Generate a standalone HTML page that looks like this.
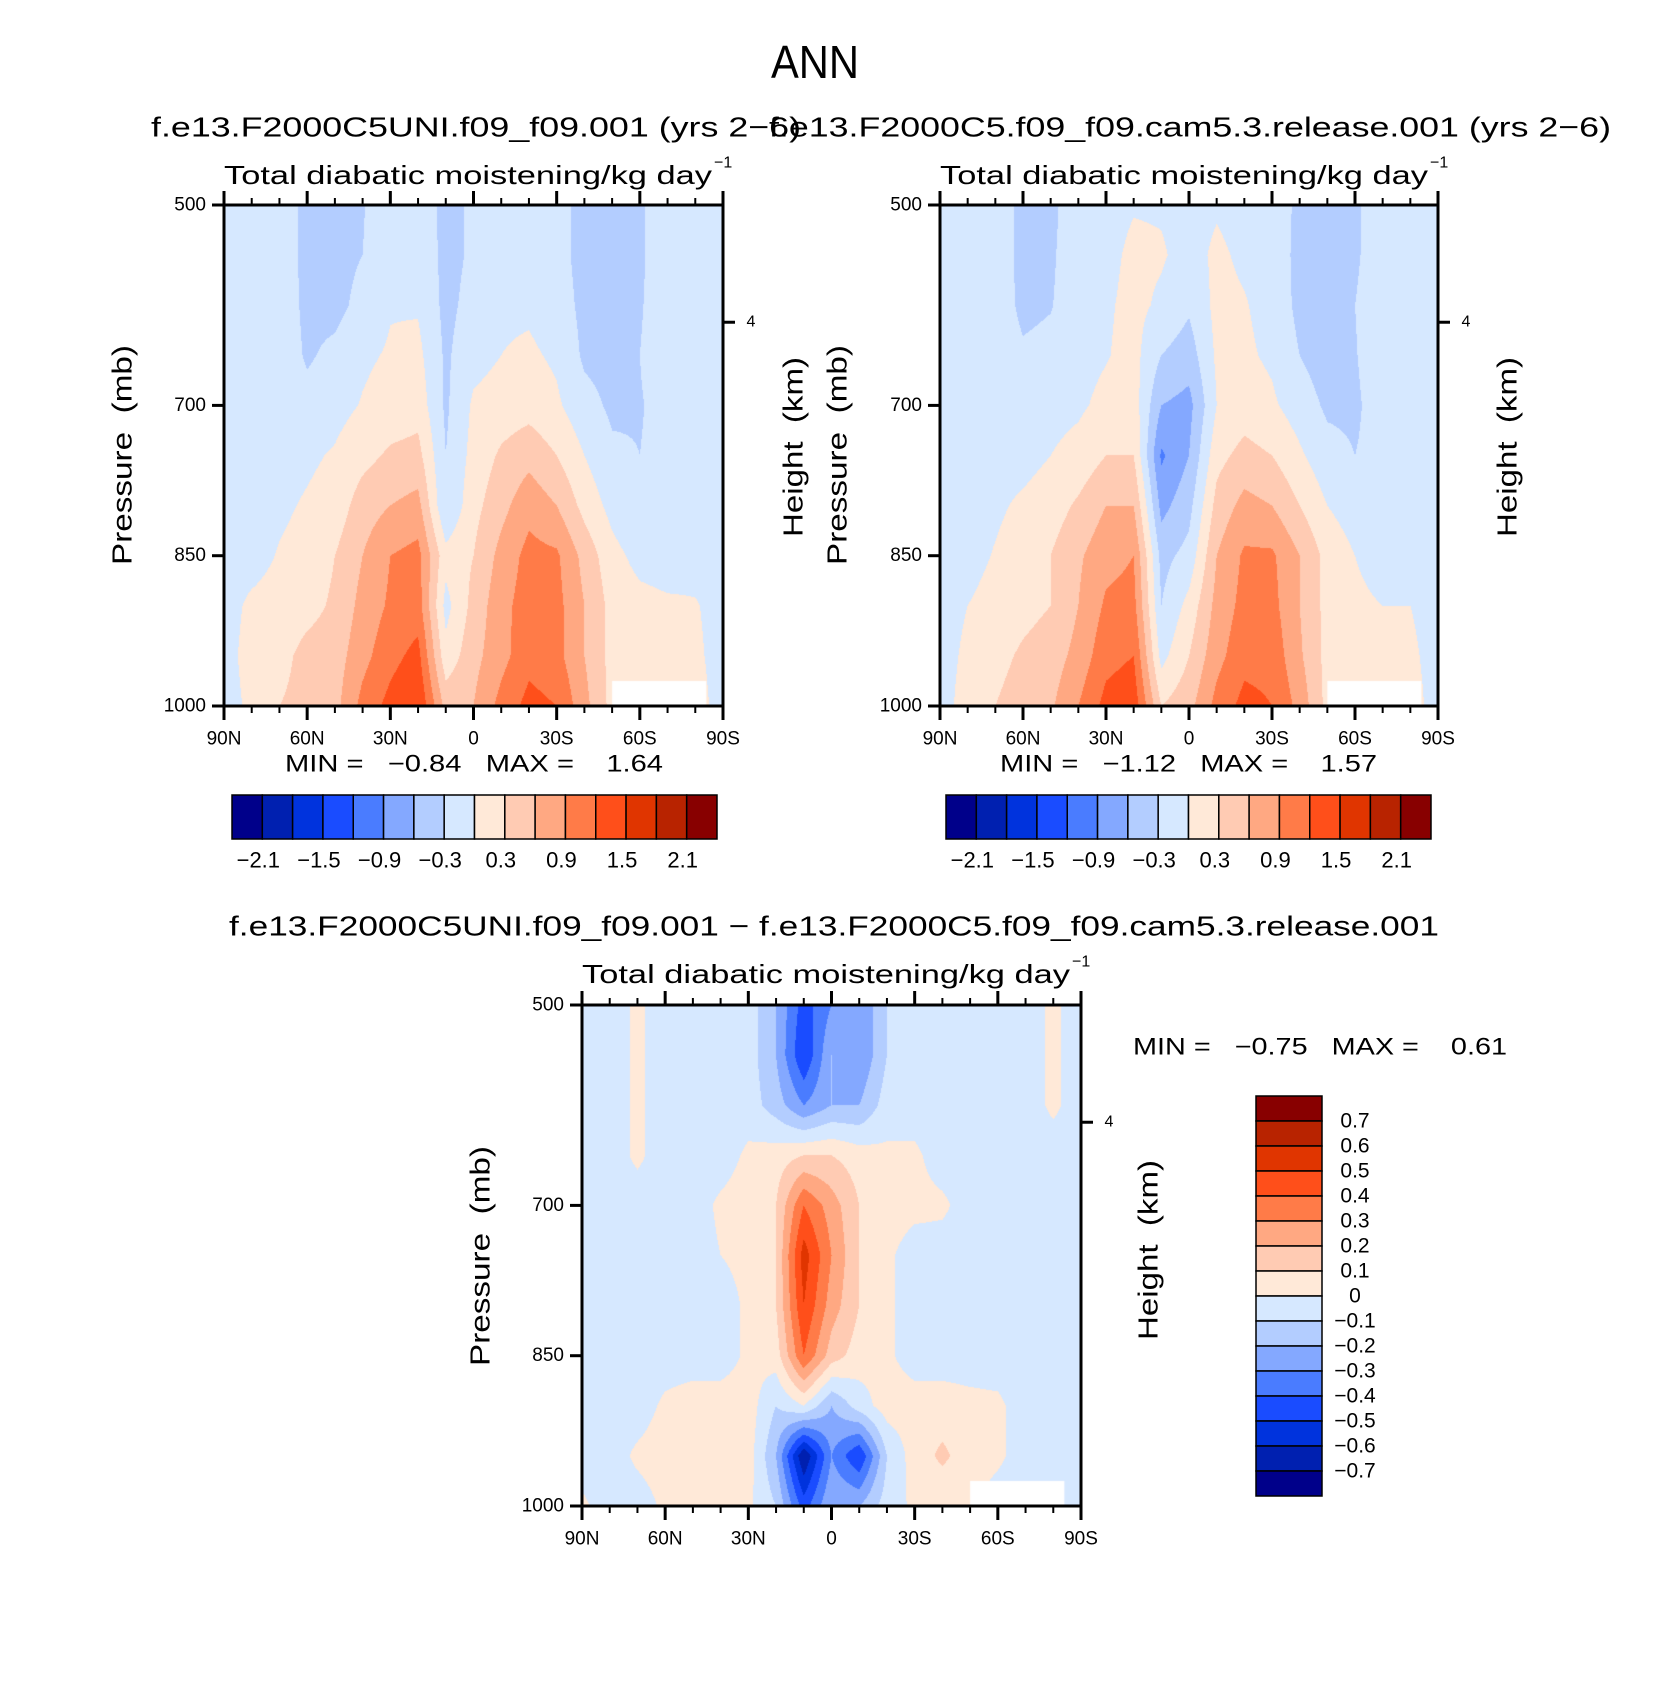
<!DOCTYPE html>
<html><head><meta charset="utf-8">
<style>
html,body{margin:0;padding:0;background:#fff;}
#root{position:relative;width:1660px;height:1702px;overflow:hidden;background:#fff;}
canvas{position:absolute;}
svg{position:absolute;left:0;top:0;}
text{font-family:"Liberation Sans",sans-serif;fill:#000;white-space:pre;}
</style></head>
<body>
<div id="root">
<canvas id="c1"></canvas>
<canvas id="c2"></canvas>
<canvas id="c3"></canvas>
<svg id="ov" width="1660" height="1702"></svg>
</div>
<script>
// ---- data ----
const latLabels = ["90N","60N","30N","0","30S","60S","90S"];
const latitudes = [90,80,70,60,50,40,30,20,10,0,-10,-20,-30,-40,-50,-60,-70,-80,-90];
const pressures = [500,550,600,650,700,750,800,850,900,950,1000];
const pTicks = [500,700,850,1000];
const cbLabelsAbs = ["−2.1","−1.5","−0.9","−0.3","0.3","0.9","1.5","2.1"];
const levelsAbs = [-2.1,-1.8,-1.5,-1.2,-0.9,-0.6,-0.3,0,0.3,0.6,0.9,1.2,1.5,1.8,2.1];
const levelsDiff = [-0.7,-0.6,-0.5,-0.4,-0.3,-0.2,-0.1,0,0.1,0.2,0.3,0.4,0.5,0.6,0.7];
const cbLabelsDiff = ["0.7","0.6","0.5","0.4","0.3","0.2","0.1","0","−0.1","−0.2","−0.3","−0.4","−0.5","−0.6","−0.7"];
const palette = ["#00008a","#0020b0","#0033dd","#1a4cff","#4a7cff","#84a8ff","#b3cdff","#d6e8ff","#ffe9d8","#ffcbb3","#ffa882","#ff7b48","#ff4f1a","#e03500","#b82300","#880000"];

const field1 = [
[-0.1,-0.1,-0.1,-0.4,-0.4,-0.32,-0.1,-0.1,-0.4,-0.25,-0.1,-0.1,-0.2,-0.4,-0.45,-0.35,-0.1,-0.1,-0.1],
[-0.1,-0.1,-0.1,-0.4,-0.4,-0.3,-0.1,-0.05,-0.4,-0.25,-0.1,-0.1,-0.2,-0.4,-0.45,-0.35,-0.1,-0.1,-0.1],
[-0.1,-0.1,-0.1,-0.38,-0.4,-0.2,-0.02,-0.03,-0.38,-0.2,-0.05,-0.05,-0.15,-0.38,-0.42,-0.33,-0.1,-0.1,-0.1],
[-0.1,-0.1,-0.1,-0.34,-0.22,-0.05,0.03,0.08,-0.35,-0.1,0.0,0.05,-0.05,-0.35,-0.4,-0.3,-0.1,-0.1,-0.1],
[-0.1,-0.1,-0.1,-0.2,-0.1,0.02,0.12,0.18,-0.35,0.05,0.12,0.18,0.05,-0.2,-0.35,-0.32,-0.2,-0.1,-0.1],
[-0.1,-0.1,-0.1,-0.05,0.03,0.2,0.35,0.4,-0.3,0.1,0.35,0.5,0.3,0.0,-0.25,-0.3,-0.2,-0.1,-0.1],
[-0.1,-0.1,-0.05,0.03,0.12,0.45,0.6,0.7,-0.3,0.2,0.5,0.8,0.6,0.2,-0.1,-0.3,-0.1,-0.1,-0.1],
[-0.1,-0.1,0.02,0.1,0.3,0.6,0.9,1.0,0.1,0.3,0.7,1.0,0.95,0.5,0.1,-0.1,-0.15,-0.1,-0.1],
[-0.1,0.05,0.1,0.2,0.35,0.7,0.95,1.05,-0.1,0.4,0.8,1.05,1.0,0.6,0.2,0.1,0.05,0.02,-0.1],
[-0.1,0.1,0.2,0.4,0.45,0.8,1.1,1.3,0.1,0.5,0.8,1.1,1.0,0.6,0.2,0.1,0.1,0.05,-0.1],
[-0.1,0.05,0.3,0.4,0.5,1.0,1.3,1.5,0.5,0.6,1.0,1.3,1.2,0.7,0.2,0.1,0.1,0.1,-0.1]
];
const field2 = [
[-0.1,-0.1,-0.1,-0.4,-0.38,-0.1,-0.1,-0.02,-0.03,-0.1,-0.03,-0.1,-0.1,-0.38,-0.45,-0.35,-0.1,-0.1,-0.1],
[-0.1,-0.1,-0.1,-0.4,-0.35,-0.1,-0.08,0.06,0.03,-0.1,0.05,-0.05,-0.1,-0.4,-0.45,-0.35,-0.1,-0.1,-0.1],
[-0.1,-0.1,-0.1,-0.38,-0.32,-0.1,-0.04,0.08,-0.05,-0.25,0.08,0.02,-0.1,-0.38,-0.45,-0.3,-0.1,-0.1,-0.1],
[-0.1,-0.1,-0.1,-0.25,-0.2,-0.1,-0.02,0.1,-0.3,-0.45,0.05,0.05,-0.05,-0.3,-0.45,-0.32,-0.1,-0.1,-0.1],
[-0.1,-0.1,-0.1,-0.15,-0.1,-0.05,0.08,0.15,-0.6,-0.7,0.0,0.15,0.05,-0.15,-0.35,-0.35,-0.15,-0.1,-0.1],
[-0.1,-0.1,-0.1,-0.1,0.0,0.1,0.3,0.3,-0.95,-0.6,0.2,0.4,0.3,0.05,-0.2,-0.3,-0.2,-0.1,-0.1],
[-0.1,-0.1,-0.05,0.05,0.15,0.35,0.6,0.6,-0.7,-0.4,0.4,0.7,0.6,0.3,0.0,-0.15,-0.2,-0.1,-0.1],
[-0.1,-0.1,0.02,0.15,0.3,0.55,0.8,0.9,-0.4,-0.2,0.6,0.95,0.95,0.6,0.2,0.0,-0.1,-0.1,-0.1],
[-0.1,0.0,0.1,0.2,0.3,0.6,0.95,1.0,-0.3,0.1,0.7,1.0,1.0,0.6,0.2,0.05,0.0,0.0,-0.1],
[-0.1,0.05,0.2,0.35,0.45,0.7,1.1,1.2,-0.1,0.3,0.8,1.1,1.1,0.65,0.2,0.1,0.1,0.05,-0.1],
[-0.1,0.1,0.3,0.45,0.55,0.9,1.3,1.4,0.3,0.5,1.0,1.3,1.2,0.8,0.2,0.1,0.1,0.1,-0.1]
];
const field3 = [
[-0.05,-0.05,0.02,-0.05,-0.05,-0.05,-0.05,-0.2,-0.45,-0.3,-0.3,-0.1,-0.05,-0.05,-0.05,-0.05,-0.05,0.02,-0.05],
[-0.05,-0.05,0.02,-0.05,-0.05,-0.05,-0.05,-0.2,-0.5,-0.2,-0.3,-0.1,-0.05,-0.05,-0.05,-0.05,-0.05,0.02,-0.05],
[-0.05,-0.05,0.02,-0.05,-0.05,-0.05,-0.05,-0.15,-0.3,-0.2,-0.2,-0.05,-0.05,-0.05,-0.05,-0.05,-0.05,0.02,-0.05],
[-0.05,-0.05,0.02,-0.05,-0.05,-0.05,0.02,0.05,0.1,0.1,0.05,0.02,0.02,-0.05,-0.05,-0.05,-0.05,-0.05,-0.05],
[-0.05,-0.05,-0.05,-0.05,-0.05,0.02,0.05,0.1,0.4,0.25,0.1,0.05,0.03,0.02,-0.05,-0.05,-0.05,-0.05,-0.05],
[-0.05,-0.05,-0.05,-0.05,-0.05,0.0,0.03,0.1,0.55,0.3,0.1,0.02,-0.05,-0.05,-0.05,-0.05,-0.05,-0.05,-0.05],
[-0.05,-0.05,-0.05,-0.05,-0.05,-0.05,0.02,0.1,0.5,0.25,0.1,0.02,-0.05,-0.05,-0.05,-0.05,-0.05,-0.05,-0.05],
[-0.05,-0.05,-0.05,-0.05,-0.05,-0.05,0.02,0.05,0.4,0.15,0.05,0.02,-0.05,-0.05,-0.05,-0.05,-0.05,-0.05,-0.05],
[-0.05,-0.05,-0.05,0.02,0.05,0.05,0.05,-0.1,0.0,-0.2,-0.05,0.05,0.05,0.05,0.03,0.02,-0.05,-0.05,-0.05],
[-0.05,-0.05,0.02,0.05,0.05,0.05,0.05,-0.2,-0.7,-0.3,-0.5,-0.1,0.05,0.12,0.05,0.02,-0.05,-0.05,-0.05],
[0.02,-0.05,-0.05,0.02,0.05,0.05,0.02,-0.1,-0.45,-0.2,-0.2,-0.05,0.02,0.02,0.02,-0.05,-0.05,-0.05,-0.05]
];

// ---- layout ----
const panels = [
 {id:"c1", x0:224, x1:723, y0:205, y1:706, field:field1, levels:levelsAbs, name:"uni"},
 {id:"c2", x0:940, x1:1438, y0:205, y1:706, field:field2, levels:levelsAbs, name:"release"},
 {id:"c3", x0:582, x1:1081, y0:1005, y1:1506, field:field3, levels:levelsDiff, name:"diff"}
];
const NS="http://www.w3.org/2000/svg";
const svg=document.getElementById('ov');
function el(tag,attrs,parent){const e=document.createElementNS(NS,tag);for(const k in attrs)e.setAttribute(k,attrs[k]);(parent||svg).appendChild(e);return e;}
function txt(s,x,y,size,opts){opts=opts||{};const t=el('text',{x:x,y:y,'font-size':size,'text-anchor':opts.anchor||'middle','dominant-baseline':'central'});
 if(opts.len){t.setAttribute('textLength',opts.len);t.setAttribute('lengthAdjust','spacingAndGlyphs');}
 if(opts.rot)t.setAttribute('transform','rotate(-90 '+x+' '+y+')');
 t.textContent=s;return t;}
function hexRGB(h){return [parseInt(h.substr(1,2),16),parseInt(h.substr(3,2),16),parseInt(h.substr(5,2),16)];}
const palRGB=palette.map(hexRGB);
function colorIdx(v,levels){let i=0;while(i<levels.length&&v>=levels[i])i++;return i;}
function latToX(p,lat){return p.x0+(90-lat)/180*(p.x1-p.x0);}
function pToY(p,pr){return p.y0+(pr-500)/500*(p.y1-p.y0);}
function sample(field,lat,pr){
 let fx=(90-lat)/10, fy=(pr-500)/50;
 let i=Math.min(Math.floor(fx),latitudes.length-2), j=Math.min(Math.floor(fy),pressures.length-2);
 let tx=fx-i, ty=fy-j;
 const a=field[j][i],b=field[j][i+1],c=field[j+1][i],d=field[j+1][i+1];
 return (a*(1-tx)+b*tx)*(1-ty)+(c*(1-tx)+d*tx)*ty;
}
panels.forEach(p=>{
 const cv=document.getElementById(p.id);
 const W=p.x1-p.x0,H=p.y1-p.y0;
 cv.width=W;cv.height=H;cv.style.left=p.x0+'px';cv.style.top=p.y0+'px';
 const ctx=cv.getContext('2d');const img=ctx.createImageData(W,H);
 for(let y=0;y<H;y++){const pr=500+(y+0.5)/H*500;
  for(let x=0;x<W;x++){const lat=90-(x+0.5)/W*180;
   const c=palRGB[colorIdx(sample(p.field,lat,pr),p.levels)];
   const k=(y*W+x)*4;img.data[k]=c[0];img.data[k+1]=c[1];img.data[k+2]=c[2];img.data[k+3]=255;}}
 ctx.putImageData(img,0,0);
 const mx0=latToX(p,-50)-p.x0, mx1=latToX(p,-84)-p.x0, my0=pToY(p,975)-p.y0;
 ctx.fillStyle="#fff";ctx.fillRect(mx0,my0,mx1-mx0,H-my0);
});
// axes
panels.forEach(p=>{
 const g=el('g',{});
 
 
 el('rect',{x:p.x0,y:p.y0,width:p.x1-p.x0,height:p.y1-p.y0,fill:'none',stroke:'#000','stroke-width':3},g);
 for(let lat=90;lat>=-90;lat-=10){
  const x=latToX(p,lat);const major=(lat%30===0);const L=major?14:7;
  el('line',{x1:x,x2:x,y1:p.y1,y2:p.y1+L,stroke:'#000','stroke-width':major?3:2},g);
  el('line',{x1:x,x2:x,y1:p.y0,y2:p.y0-L,stroke:'#000','stroke-width':major?3:2},g);
 }
 latLabels.forEach((s,i)=>{const t=txt(s,latToX(p,90-30*i),p.y1+33,19);});
 pTicks.forEach(pr=>{const y=pToY(p,pr);
  el('line',{x1:p.x0-12,x2:p.x0,y1:y,y2:y,stroke:'#000','stroke-width':3},g);
  const t=txt(String(pr),p.x0-18,y,19,{anchor:'end'});});
 const y4=pToY(p,617);
 el('line',{x1:p.x1,x2:p.x1+12,y1:y4,y2:y4,stroke:'#000','stroke-width':3},g);
 txt("4",p.x1+28,y4,16);
});
// titles
let t;
t=txt("ANN",815,62,46,{len:88});
t=txt("f.e13.F2000C5UNI.f09_f09.001 (yrs 2−6)",476,127,28,{len:650});
t=txt("f.e13.F2000C5.f09_f09.cam5.3.release.001 (yrs 2−6)",1190,127,28,{len:842});
t=txt("f.e13.F2000C5UNI.f09_f09.001 − f.e13.F2000C5.f09_f09.cam5.3.release.001",834,926,28,{len:1210});
function subtitle(x0,y,name){
 const tt=txt("Total diabatic moistening/kg day",x0,y,26,{anchor:'start',len:488});
 
 txt("−1",x0+490,y-12,16,{anchor:'start'});
}
subtitle(224,175,'panel1-subtitle');subtitle(940,175,'panel2-subtitle');subtitle(582,974,'panel3-subtitle');
function minmax(x0,x1,y,mn,mx,name){
 const tt=txt("MIN =   "+mn+"   MAX =    "+mx,(x0+x1)/2,y,24,{len:x1-x0});
 
}
minmax(285,663,764,"−0.84","1.64",'panel1-minmax');
minmax(1000,1377,764,"−1.12","1.57",'panel2-minmax');
minmax(1133,1507,1047,"−0.75","0.61",'panel3-minmax');
// axis titles
[[122,455,'Pressure (mb)'],[837,455,'Pressure (mb)'],[480,1256,'Pressure (mb)'],[793,447,'Height (km)'],[1507,447,'Height (km)'],[1148,1250,'Height (km)']].forEach(a=>{
 const tt=txt(a[2].replace(' ','  '),a[0],a[1],28,{rot:true,len:a[2].startsWith('P')?220:180});
 
});
// horizontal colorbars
function hbar(x0,x1,y0,y1,name){
 const g=el('g',{});
 const w=(x1-x0)/palette.length;
 palette.forEach((c,i)=>{el('rect',{x:x0+i*w,y:y0,width:w,height:y1-y0,fill:c,stroke:'#000','stroke-width':1.5},g);});
 cbLabelsAbs.forEach((s,i)=>{const tt=txt(s,x0+(1+2*i)*w-4,y1+21,22);});
}
hbar(232,717,795,839,'colorbar-panel1');
hbar(946,1431,795,839,'colorbar-panel2');
// vertical colorbar
(function(){
 const x0=1256,x1=1322,y0=1096,y1=1496;const h=(y1-y0)/palette.length;
 const g=el('g',{});
 for(let i=0;i<palette.length;i++){el('rect',{x:x0,y:y0+i*h,width:x1-x0,height:h,fill:palette[palette.length-1-i],stroke:'#000','stroke-width':1.5},g);}
 cbLabelsDiff.forEach((s,i)=>{const tt=txt(s,1355,y0+(i+1)*h,21);});
})();
</script>
</body></html>
